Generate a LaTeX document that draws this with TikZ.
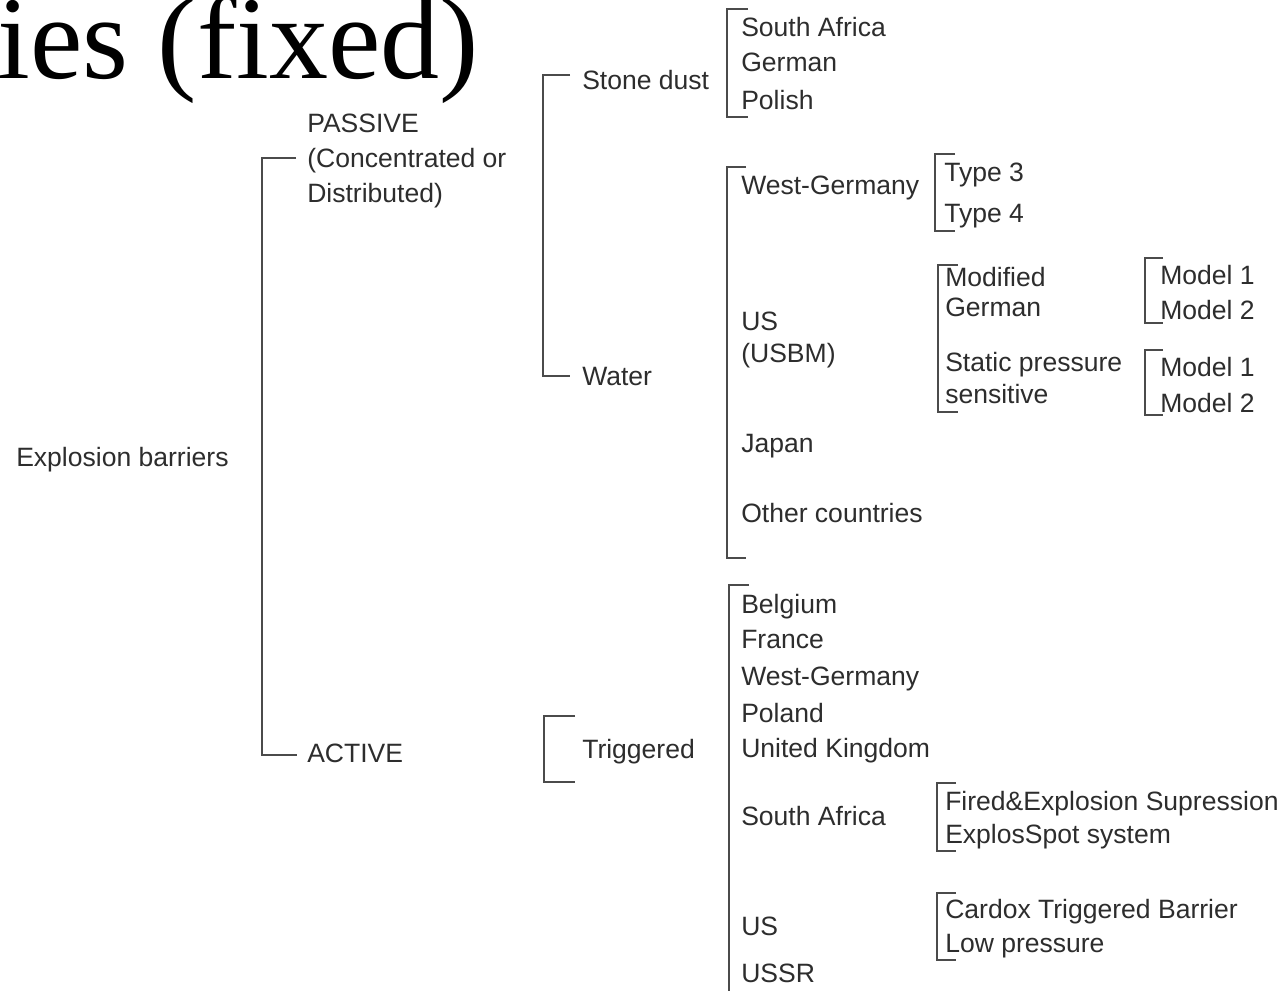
\documentclass[tikz,border=0pt]{standalone}
\usepackage{fontspec}
\setmainfont{Liberation Sans}
\newfontfamily\titlefont{Liberation Serif}
\definecolor{txt}{RGB}{45,45,45}
\definecolor{ln}{RGB}{75,75,75}
\begin{document}
\begin{tikzpicture}[x=0.75pt,y=-0.75pt,
  lab/.style={anchor=base west, inner sep=0pt, text=txt, font=\fontsize{19.9}{24}\selectfont},
  brk/.style={draw=ln, line width=1.3pt}]
\useasboundingbox (0,0) rectangle (1286,991);
\fill[white] (0,0) rectangle (1286,991);
% title (cut by the top edge, as in the reference)
\node[anchor=base west, inner sep=0pt, font=\titlefont\fontsize{88.5}{95}\selectfont] (title) at (-3,79) {ies (fixed)};
% root
\node[lab] (root) at (16,466) {Explosion barriers};
\node[lab] (pas1) at (307,133) {PASSIVE};
\node[lab] (pas2) at (307,168) {(Concentrated or};
\node[lab] (pas3) at (307,203) {Distributed)};
\node[lab] (act) at (307,762) {ACTIVE};
% level 2
\node[lab] (stone) at (582,90) {Stone dust};
\node[lab] (water) at (582,386) {Water};
\node[lab] (trig) at (582,758) {Triggered};
% stone dust children
\node[lab] (sd1) at (741,37) {South Africa};
\node[lab] (sd2) at (741,72) {German};
\node[lab] (sd3) at (741,110) {Polish};
% water children
\node[lab] (wg) at (741,195) {West-Germany};
\node[lab] (us1) at (741,331) {US};
\node[lab] (us2) at (741,363) {(USBM)};
\node[lab] (jp) at (741,452) {Japan};
\node[lab] (oc) at (741,522) {Other countries};
\node[lab] (t3) at (944,182) {Type 3};
\node[lab] (t4) at (944,223) {Type 4};
\node[lab] (mg1) at (945,287) {Modified};
\node[lab] (mg2) at (945,317) {German};
\node[lab] (sp1) at (945,372) {Static pressure};
\node[lab] (sp2) at (945,403) {sensitive};
\node[lab] (m11) at (1160,285) {Model 1};
\node[lab] (m12) at (1160,320) {Model 2};
\node[lab] (m21) at (1160,377) {Model 1};
\node[lab] (m22) at (1160,412) {Model 2};
% active children
\node[lab] (be) at (741,613) {Belgium};
\node[lab] (fr) at (741,648) {France};
\node[lab] (wg2) at (741,685) {West-Germany};
\node[lab] (pl) at (741,722) {Poland};
\node[lab] (uk) at (741,757) {United Kingdom};
\node[lab] (sa) at (741,825) {South Africa};
\node[lab] (usa) at (741,935) {US};
\node[lab] (ussr) at (741,982) {USSR};
\node[lab] (fe) at (945,810) {Fired\&Explosion Supression};
\node[lab] (es) at (945,843) {ExplosSpot system};
\node[lab] (cx) at (945,918) {Cardox Triggered Barrier};
\node[lab] (lp) at (945,952) {Low pressure};
% brackets
\draw[brk] (296,158) -- (262,158) -- (262,755) -- (297,755);
\draw[brk] (570,75) -- (543,75) -- (543,376) -- (570,376);
\draw[brk] (748,9) -- (727,9) -- (727,117) -- (748,117);
\draw[brk] (746,167) -- (727,167) -- (727,558) -- (746,558);
\draw[brk] (955,154) -- (935,154) -- (935,231) -- (955,231);
\draw[brk] (958,265) -- (938,265) -- (938,412) -- (958,412);
\draw[brk] (1163,258) -- (1145,258) -- (1145,323) -- (1163,323);
\draw[brk] (1163,350) -- (1145,350) -- (1145,415) -- (1163,415);
\draw[brk] (575,716) -- (544,716) -- (544,782) -- (575,782);
\draw[brk] (749,585) -- (729,585) -- (729,995);
\draw[brk] (956,783) -- (937,783) -- (937,851) -- (956,851);
\draw[brk] (956,893) -- (937,893) -- (937,960) -- (956,960);
\end{tikzpicture}
\end{document}
